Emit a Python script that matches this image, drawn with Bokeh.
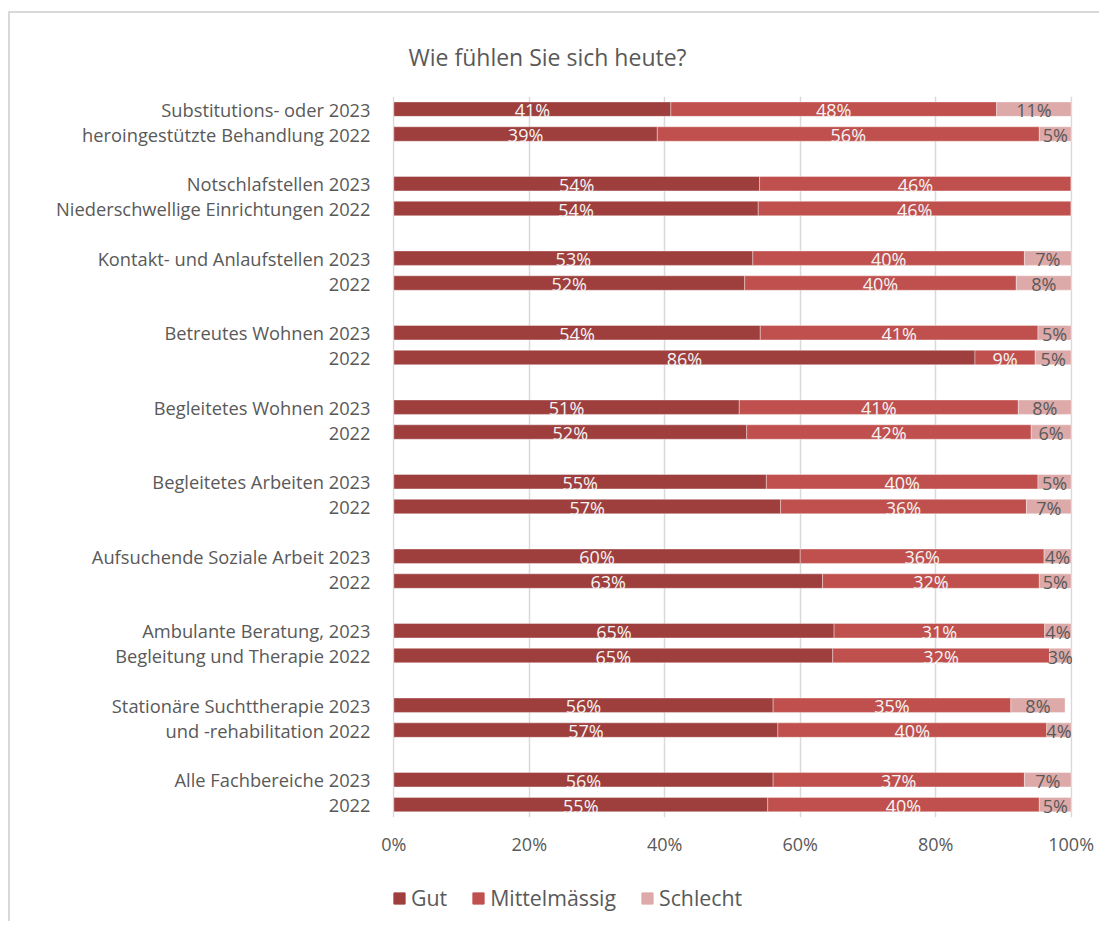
from bokeh.plotting import figure
from bokeh.layouts import column
from bokeh.models import (ColumnDataSource, FixedTicker, Range1d, Legend, LegendItem,
                          LabelSet)
from bokeh.core.properties import value
from bokeh.embed import file_html
from bokeh.resources import INLINE

# ---- data ----
row_labels = [
    "Substitutions- oder 2023", "heroingestützte Behandlung 2022",
    "Notschlafstellen 2023", "Niederschwellige Einrichtungen 2022",
    "Kontakt- und Anlaufstellen 2023", "2022",
    "Betreutes Wohnen 2023", "2022",
    "Begleitetes Wohnen 2023", "2022",
    "Begleitetes Arbeiten 2023", "2022",
    "Aufsuchende Soziale Arbeit 2023", "2022",
    "Ambulante Beratung, 2023", "Begleitung und Therapie 2022",
    "Stationäre Suchttherapie 2023", "und -rehabilitation 2022",
    "Alle Fachbereiche 2023", "2022",
]
gut = [40.9, 38.9, 54.0, 53.8, 53.0, 51.8, 54.1, 85.8, 51.0, 52.1,
       55.0, 57.1, 60.0, 63.3, 65.0, 64.8, 56.0, 56.7, 56.0, 55.2]
mittel = [48.1, 56.4, 46.0, 46.2, 40.1, 40.1, 41.0, 8.9, 41.2, 42.0,
          40.1, 36.3, 36.0, 32.0, 31.1, 32.0, 35.1, 39.7, 37.1, 40.1]
schlecht = [11.0, 4.7, 0.0, 0.0, 6.9, 8.1, 4.9, 5.3, 7.8, 5.9,
            4.9, 6.6, 4.0, 4.7, 3.9, 3.2, 8.0, 3.6, 6.9, 4.7]
series = ["Gut", "Mittelmässig", "Schlecht"]
colors = ["#9E3F3E", "#C0504D", "#DDAAA9"]
x_ticks = [0, 20, 40, 60, 80, 100]

FONT = "Open Sans"
GREY = "#595959"

# row positions: pairs of rows separated by a gap
ys = [3 * (i // 2) + (i % 2) for i in range(len(row_labels))]

src = ColumnDataSource(dict(y=ys, gut=gut, mittel=mittel, schlecht=schlecht))

p = figure(frame_width=680, frame_height=721,
           x_range=Range1d(-0.2, 100.2), y_range=Range1d(28.52, -0.51),
           output_backend="svg", toolbar_location=None,
           min_border_left=392, min_border_right=27,
           min_border_top=96, min_border_bottom=50)
p.border_fill_color = None

p.title.text = "Wie fühlen Sie sich heute?"
p.title.text_font = FONT
p.title.text_font_size = "23px"
p.title.text_font_style = "normal"
p.title.text_color = GREY
p.title.align = "left"
p.title.offset = 16
p.title.standoff = 47

renderers = p.hbar_stack(["gut", "mittel", "schlecht"], y="y", height=0.58,
                         color=colors, source=src,
                         line_color="white", line_width=0.6, line_alpha=0.6)

# labels
lx, ly, lt, lc = [], [], [], []
for i, y in enumerate(ys):
    start = 0.0
    for vals, col in ((gut, "#F4F4F4"), (mittel, "#F4F4F4"), (schlecht, "#595959")):
        v = vals[i]
        if v > 0:
            lx.append(start + v / 2.0)
            ly.append(y)
            lt.append(f"{round(v)}%")
            lc.append(col)
        start += v
lsrc = ColumnDataSource(dict(x=lx, y=ly, t=lt, c=lc))
labels = LabelSet(x="x", y="y", text="t", source=lsrc, text_color="c",
                  text_font=value(FONT), text_font_size="18px",
                  text_align="center", text_baseline="middle", y_offset=-1)
p.add_layout(labels)

# axes
p.xaxis.ticker = FixedTicker(ticks=x_ticks)
p.xaxis.major_label_overrides = {t: f"{t}%" for t in x_ticks}
p.yaxis.ticker = FixedTicker(ticks=ys)
p.yaxis.major_label_overrides = {y: lab for y, lab in zip(ys, row_labels)}
for ax in (p.xaxis[0], p.yaxis[0]):
    ax.axis_line_color = None
    ax.major_tick_line_color = None
    ax.minor_tick_line_color = None
    ax.major_tick_out = 0
    ax.major_tick_in = 0
    ax.major_label_text_font = FONT
    ax.major_label_text_color = GREY
p.xaxis.major_label_text_font_size = "18px"
p.yaxis.major_label_text_font_size = "18.3px"
p.xaxis.major_label_standoff = 14
p.yaxis.major_label_standoff = 22

p.xgrid.ticker = FixedTicker(ticks=x_ticks)
p.xgrid.grid_line_color = "#D9D9D9"
p.xgrid.grid_line_width = 1.5
p.ygrid.grid_line_color = None
p.outline_line_color = None

# ---- legend strip below the chart (its frame is aligned with the chart's frame) ----
leg = figure(width=1099, height=54, x_range=Range1d(0, 1), y_range=Range1d(0, 1),
             output_backend="svg", toolbar_location=None,
             min_border_left=0, min_border_right=0, min_border_top=0, min_border_bottom=0)
leg.border_fill_color = None
leg.axis.visible = False
leg.grid.visible = False
leg.outline_line_color = None
# legend-only glyphs, placed outside the visible range
dummies = [leg.vbar(x=[-10], top=[-10], bottom=[-11], width=0.1, color=c) for c in colors]
legend = Legend(items=[LegendItem(label=s, renderers=[r]) for s, r in zip(series, dummies)],
                orientation="horizontal", location=(0, 9),
                label_text_font=FONT, label_text_font_size="21.3px", label_text_color=GREY,
                glyph_width=14, glyph_height=14, label_standoff=5, spacing=24,
                padding=2, margin=0, border_line_color=None, background_fill_alpha=0)
leg.add_layout(legend, "center")

# light chart-area border (top and left edges) drawn as the page background
frame_css = ("linear-gradient(#D9D9D9, #D9D9D9) 8px 11px / 2px 100% no-repeat, "
             "linear-gradient(#D9D9D9, #D9D9D9) 8px 11px / 100% 2px no-repeat, #FFFFFF")
layout = column(p, leg, spacing=0, styles={"background": frame_css})

open("out.html", "w").write(file_html(layout, INLINE))
